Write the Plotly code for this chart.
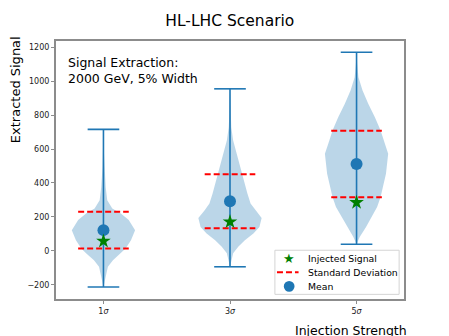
import plotly.graph_objects as go

# injection strengths (x positions 1, 2, 3)
positions = [1, 2, 3]
tick_labels = ["1<i>σ</i>", "3<i>σ</i>", "5<i>σ</i>"]

# extracted signal summary
means = [122, 292, 512]
stds = [109, 159, 196]
injected = [57, 171, 285]
mins = [-213, -94, 39]
maxs = [716, 955, 1171]

# violin outlines: signal level -> relative half width (1 = widest)
v1_y = [-213, -153, -94, -55, -15, 14, 63, 122, 181, 220, 249, 298, 376, 494, 600, 716]
v1_w = [0.0, 0.08, 0.14, 0.3, 0.55, 0.7, 0.87, 1.0, 0.8, 0.55, 0.28, 0.12, 0.07, 0.03, 0.01, 0.0]

v2_y = [-94, -15, 24, 63, 102, 141, 194, 239, 279, 338, 416, 494, 573, 651, 729, 808, 955]
v2_w = [0.0, 0.1, 0.26, 0.47, 0.74, 0.93, 1.0, 0.8, 0.65, 0.55, 0.44, 0.32, 0.21, 0.1, 0.04, 0.02, 0.0]

v3_y = [39, 82, 141, 200, 259, 318, 376, 455, 573, 651, 710, 788, 867, 945, 1023, 1102, 1171]
v3_w = [0.0, 0.1, 0.3, 0.47, 0.65, 0.76, 0.84, 0.93, 1.0, 0.86, 0.76, 0.58, 0.37, 0.19, 0.06, 0.02, 0.0]

violins = [(v1_y, v1_w), (v2_y, v2_w), (v3_y, v3_w)]

legend_labels = ["Injected Signal", "Standard Deviation", "Mean"]

C0 = "#1f77b4"
half = 0.25   # violin half width in x units
cap = 0.125
dash = 0.2

fig = go.Figure()

for p, (vy, vw) in zip(positions, violins):
    xs = [p + w * half for w in vw] + [p - w * half for w in reversed(vw)]
    ys = vy + list(reversed(vy))
    fig.add_trace(go.Scatter(x=xs, y=ys, fill="toself", mode="lines",
                             line=dict(width=0), fillcolor="rgba(31,119,180,0.3)",
                             hoverinfo="skip", showlegend=False))

# extrema bars and caps
lx, ly = [], []
for p, lo, hi in zip(positions, mins, maxs):
    lx += [p, p, None, p - cap, p + cap, None, p - cap, p + cap, None]
    ly += [lo, hi, None, lo, lo, None, hi, hi, None]
fig.add_trace(go.Scatter(x=lx, y=ly, mode="lines", line=dict(color=C0, width=1.6),
                         showlegend=False, hoverinfo="skip"))

sx, sy = [], []
for p, m, s in zip(positions, means, stds):
    sx += [p - dash, p + dash, None, p - dash, p + dash, None]
    sy += [m + s, m + s, None, m - s, m - s, None]
fig.add_trace(go.Scatter(x=sx, y=sy, mode="lines", name=legend_labels[1], showlegend=False,
                         line=dict(color="red", width=2, dash="6px,3px")))

fig.add_trace(go.Scatter(x=positions, y=means, mode="markers", name=legend_labels[2],
                         showlegend=False, marker=dict(color=C0, size=12)))

fig.add_trace(go.Scatter(x=positions, y=injected, mode="markers", name=legend_labels[0],
                         showlegend=False,
                         marker=dict(symbol="star", color="green", size=11, line=dict(width=0))))

axis_style = dict(showline=True, linecolor="#8c8c8c", linewidth=2, mirror=True,
                  ticks="outside", tickcolor="#8c8c8c", ticklen=3, showgrid=False,
                  zeroline=False, tickfont=dict(size=8, color="#222"))

fig.update_xaxes(range=[0.625, 3.375], tickvals=positions, ticktext=tick_labels, **axis_style)
fig.update_yaxes(range=[-284, 1237], tickvals=[-200, 0, 200, 400, 600, 800, 1000, 1200],
                 ticktext=["−200", "0", "200", "400", "600", "800", "1000", "1200"], **axis_style)

# compact legend box like matplotlib's (plotly's own legend rows are too tall here)
row_y = [0.158, 0.1035, 0.049]
key_x = 0.670
text_x = 0.717
annotations = [
    dict(text=lab, xref="paper", yref="paper", x=text_x, y=ry, xanchor="left",
         yanchor="middle", showarrow=False, font=dict(size=9.3))
    for lab, ry in zip(legend_labels, row_y)
]
annotations.append(dict(text="★", xref="paper", yref="paper", x=key_x, y=row_y[0],
                        xanchor="center", yanchor="middle", showarrow=False,
                        font=dict(size=13, color="green")))
shapes = [
    dict(type="rect", xref="paper", yref="paper", x0=0.629, x1=0.986, y0=0.018, y1=0.189,
         line=dict(color="#d4d4d4", width=1), fillcolor="rgba(255,255,255,0.85)", layer="above"),
    dict(type="line", xref="paper", yref="paper", x0=0.635, x1=0.697, y0=row_y[1], y1=row_y[1],
         line=dict(color="red", width=2, dash="6px,3px")),
    dict(type="circle", xref="paper", yref="paper", x0=key_x - 0.0155, x1=key_x + 0.0155,
         y0=row_y[2] - 0.021, y1=row_y[2] + 0.021, line=dict(width=0), fillcolor=C0),
]

annotations += [
    dict(text="Signal Extraction:<br>2000 GeV, 5% Width", xref="paper", yref="paper",
         x=0.03, y=0.955, xanchor="left", yanchor="top", showarrow=False, align="left",
         font=dict(size=12.5)),
    dict(text="Extracted Signal", xref="paper", yref="paper", textangle=-90,
         x=-0.118, y=0.813, xanchor="center", yanchor="middle",
         showarrow=False, font=dict(size=13)),
    dict(text="Injection Strength", xref="paper", yref="paper",
         x=(351 - 56) / 348.0, y=-(330 - 299) / 258.0, xanchor="center", yanchor="middle",
         showarrow=False, font=dict(size=12.5)),
]

# the page body adds an 8px offset, so the figure is 8px smaller on each axis
fig.update_layout(
    width=441, height=328,
    margin=dict(l=48, r=45, t=33, b=37),
    plot_bgcolor="white", paper_bgcolor="white",
    font=dict(family="DejaVu Sans", color="black"),
    title=dict(text="HL-LHC Scenario", x=0.503, xanchor="center", y=0.963, yanchor="middle",
               font=dict(size=15.5)),
    showlegend=False,
    shapes=shapes,
    annotations=annotations,
)

fig.write_html("out.html")
